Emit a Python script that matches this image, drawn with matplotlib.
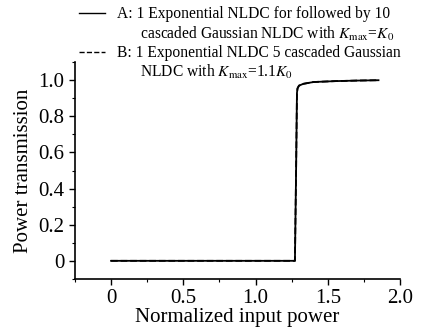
import matplotlib
matplotlib.use("Agg")
import matplotlib.pyplot as plt
from matplotlib.lines import Line2D
from matplotlib.ticker import MultipleLocator

plt.rcParams['font.family'] = ['Liberation Serif', 'DejaVu Serif']
plt.rcParams['mathtext.fontset'] = 'stix'

# data
power_a = [0, 1.272, 1.280, 1.286, 1.290, 1.300, 1.330, 1.400, 1.550, 1.700, 1.850]
trans_a = [0, 0, 0.50, 0.93, 0.955, 0.970, 0.980, 0.990, 0.995, 0.998, 1.000]
# curve B lies on top of curve A in the figure
power_b = power_a
trans_b = trans_a

xticks = [0, 0.5, 1.0, 1.5, 2.0]
xtick_labels = ["0", "0.5", "1.0", "1.5", "2.0"]
yticks = [0, 0.2, 0.4, 0.6, 0.8, 1.0]
ytick_labels = ["0", "0.2", "0.4", "0.6", "0.8", "1.0"]

fig = plt.figure(figsize=(4.28, 3.36), dpi=100)
ax = fig.add_axes([0.175, 0.17, 0.76, 0.645])

ax.plot(power_a, trans_a, color='black', lw=1.3)
ax.plot(power_b, trans_b, color='black', lw=1.3, ls='--')

ax.set_xlim(-0.25, 2.0)
ax.set_ylim(-0.1, 1.1)
ax.set_xticks(xticks)
ax.set_xticklabels(xtick_labels)
ax.set_yticks(yticks)
ax.set_yticklabels(ytick_labels)
ax.xaxis.set_minor_locator(MultipleLocator(0.25))
ax.yaxis.set_minor_locator(MultipleLocator(0.1))
ax.tick_params(which='major', direction='out', length=4, width=1, labelsize=15)
ax.tick_params(which='minor', direction='out', length=2, width=0.8)
for s in ['top', 'right']:
    ax.spines[s].set_visible(False)
for s in ['left', 'bottom']:
    ax.spines[s].set_linewidth(1.2)

ax.set_xlabel("Normalized input power", fontsize=15, labelpad=0)
ax.set_ylabel("Power transmission", fontsize=15, labelpad=4)

blank = Line2D([], [], color='none')
handles = [Line2D([], [], color='black', lw=1), blank,
           Line2D([], [], color='black', lw=1, ls='--'), blank]
labels = ["A: 1 Exponential NLDC for followed by 10",
          "      cascaded Gaussian NLDC with $K_{\\rm max}$=$K_0$",
          "B: 1 Exponential NLDC 5 cascaded Gaussian",
          "      NLDC with $K_{\\rm max}$=1.1$K_0$"]
fig.legend(handles, labels, loc='upper left', bbox_to_anchor=(0.17, 1.0),
           frameon=False, fontsize=11.2, handlelength=1.7, handletextpad=0.75,
           labelspacing=0.15, borderaxespad=0)

fig.savefig("out.png", dpi=100)
